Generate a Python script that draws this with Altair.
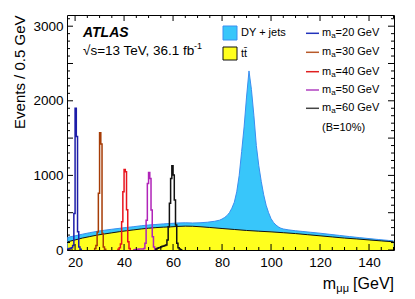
import altair as alt
import pandas as pd

# ---------------- data ----------------
# stacked top of (ttbar + DY+jets), events / 0.5 GeV
dy_mass = [17, 20, 23, 26, 29, 32, 35, 38, 41, 44, 47, 50, 53, 56, 59, 62, 65, 68, 71, 74,
           77, 79, 80, 81, 82, 83, 84, 85, 86, 87, 88, 89, 90, 91, 92, 93, 94, 95, 96, 97,
           98, 99, 100, 101, 102, 103, 104, 105, 107, 110, 113, 116, 120, 124, 128, 132, 136, 140, 144, 148,
           150]
dy_top = [170, 190, 212, 232, 250, 265, 278, 290, 302, 313, 325, 335, 342, 350, 356, 362, 365, 362, 365, 372,
          385, 400, 415, 435, 460, 500, 560, 640, 780, 1000, 1320, 1650, 2050, 2400, 2150, 1800, 1400, 1130, 920, 740,
          600, 500, 420, 370, 335, 310, 292, 282, 270, 258, 248, 238, 225, 210, 195, 180, 166, 153, 140, 128,
          122]

# ttbar
tt_mass = [17, 20, 23, 26, 29, 32, 35, 38, 41, 44, 47, 50, 53, 56, 59, 62, 65, 68, 71, 75,
           80, 85, 90, 95, 100, 105, 110, 115, 120, 125, 130, 135, 140, 145, 150]
tt_events = [110, 135, 160, 180, 200, 215, 230, 245, 258, 270, 282, 292, 300, 306, 310, 316, 320, 318, 312, 302,
             288, 275, 262, 252, 243, 232, 220, 205, 190, 175, 160, 148, 135, 122, 110]

# signals: first bin low edge and counts in 0.5 GeV bins
sig_names = ["m20", "m30", "m40", "m50", "m60"]
sig_start = [17.0, 28.0, 37.5, 44.0, 53.0]
sig_m20 = [15, 20, 25, 30, 60, 490, 1900, 1520, 245, 40, 10]
sig_m30 = [20, 60, 240, 760, 1570, 1420, 220, 40, 10]
sig_m40 = [10, 30, 80, 380, 780, 1080, 1050, 540, 110, 20]
sig_m50 = [5, 8, 8, 10, 12, 12, 15, 15, 20, 90, 400, 890, 1040, 960, 536, 178, 40, 10]
sig_m60 = [15, 25, 30, 35, 45, 50, 55, 60, 67, 134, 312, 626, 960, 1130, 1005, 670, 335, 90, 30, 15, 5]
sig_colors = ["#1c1ca8", "#a63c06", "#e8141e", "#b024b8", "#111111"]
sig_legend_colors = ["#2233bb", "#b85a2a", "#e02020", "#b040c0", "#444444"]
sig_labels = ["=20 GeV", "=30 GeV", "=40 GeV", "=50 GeV", "=60 GeV"]

x_major = [20, 40, 60, 80, 100, 120, 140]
x_minor = [25, 30, 35, 45, 50, 55, 65, 70, 75, 85, 90, 95, 105, 110, 115, 125, 130, 135, 145, 150]
y_major = [0, 500, 1000, 1500, 2000, 2500, 3000]
y_minor = [100, 200, 300, 400, 600, 700, 800, 900, 1100, 1200, 1300, 1400, 1600, 1700, 1800, 1900,
           2100, 2200, 2300, 2400, 2600, 2700, 2800, 2900, 3100]

# ---------------- layout ----------------
W, H = 327, 235
XDOM = [16.7, 150.2]
YDOM = [0, 3150]
FONT = "Liberation Sans"

xs = alt.Scale(domain=XDOM, nice=False, zero=False)
ys = alt.Scale(domain=YDOM, nice=False, zero=True)

dy_df = pd.DataFrame({"m": dy_mass, "v": dy_top})
tt_df = pd.DataFrame({"m": tt_mass, "v": tt_events})

rows = []
for name, start, counts in zip(sig_names, sig_start,
                               [sig_m20, sig_m30, sig_m40, sig_m50, sig_m60]):
    k = 0
    rows.append({"sig": name, "m": start, "v": 0, "o": k})
    for i, c in enumerate(counts):
        k += 1
        rows.append({"sig": name, "m": start + 0.5 * i, "v": c, "o": k})
    rows.append({"sig": name, "m": start + 0.5 * len(counts), "v": 0, "o": k + 1})
sig_df = pd.DataFrame(rows)

xax = alt.Axis(values=x_major, ticks=False, domain=False, grid=False, title=None, format="d",
               labelFont=FONT, labelFontSize=13.5, labelColor="black", labelPadding=5)
yax = alt.Axis(values=y_major, ticks=False, domain=False, grid=False, format="d",
               title="Events / 0.5 GeV", titleFont=FONT, titleFontSize=15,
               titleFontWeight="normal", titleColor="black", titleAngle=270,
               titleAlign="right", titleBaseline="alphabetic", titleX=-43, titleY=0,
               labelFont=FONT, labelFontSize=13.5, labelColor="black", labelPadding=4)

dy_area = alt.Chart(dy_df).mark_area(color="#38c6fa", stroke="#3a8ef0", strokeWidth=1,
                                     clip=True).encode(
    x=alt.X("m:Q", scale=xs, axis=xax),
    y=alt.Y("v:Q", scale=ys, axis=yax),
)
tt_area = alt.Chart(tt_df).mark_area(color="#ffff1e", clip=True).encode(
    x=alt.X("m:Q", scale=xs), y=alt.Y("v:Q", scale=ys))
tt_line = alt.Chart(tt_df).mark_line(color="#111111", strokeWidth=1, clip=True).encode(
    x=alt.X("m:Q", scale=xs), y=alt.Y("v:Q", scale=ys))

sig_lines = alt.Chart(sig_df).mark_line(interpolate="step-after", strokeWidth=1.5,
                                        clip=True).encode(
    x=alt.X("m:Q", scale=xs), y=alt.Y("v:Q", scale=ys),
    color=alt.Color("sig:N", scale=alt.Scale(domain=sig_names, range=sig_colors), legend=None),
    order="o:Q",
)


def xticks(vals, length, top):
    d = pd.DataFrame({"m": vals})
    if top:
        yv, y2v = 0, length
    else:
        yv, y2v = H, H - length
    return alt.Chart(d).mark_rule(color="black", strokeWidth=1).encode(
        x=alt.X("m:Q", scale=xs), y=alt.value(yv), y2=alt.value(y2v))


def yticks(vals, length, right):
    d = pd.DataFrame({"v": vals})
    if right:
        xv, x2v = W, W - length
    else:
        xv, x2v = 0, length
    return alt.Chart(d).mark_rule(color="black", strokeWidth=1).encode(
        y=alt.Y("v:Q", scale=ys), x=alt.value(xv), x2=alt.value(x2v))


ticks = [xticks(x_major, 6, False), xticks(x_minor, 3, False),
         xticks(x_major, 6, True), xticks(x_minor, 3, True),
         yticks(y_major, 6, False), yticks(y_minor, 3, False),
         yticks(y_major, 6, True), yticks(y_minor, 3, True)]

one = pd.DataFrame({"a": [0]})


def txt(s, x, y, size, align="left", baseline="alphabetic", weight="normal",
        style="normal", color="black", font=FONT):
    return alt.Chart(one).mark_text(text=s, align=align, baseline=baseline, fontSize=size,
                                    fontWeight=weight, fontStyle=style, color=color,
                                    font=font).encode(x=alt.value(x), y=alt.value(y))


texts = [
    txt("ATLAS", 16, 22, 14, weight="bold", style="italic"),
    txt("\u221as=13 TeV, 36.1 fb", 16, 40, 13.5),
    txt("-1", 127, 34, 9),
    # x title
    txt("[GeV]", W, 274, 16, align="right"),
    txt("\u03bc\u03bc", W - 45, 277, 11, align="right"),
    txt("m", W - 58, 274, 16, align="right"),
]

# legend
leg = []
leg.append(alt.Chart(one).mark_rect(fill="#38c6fa", stroke="#3a8ef0", strokeWidth=1).encode(
    x=alt.value(156), x2=alt.value(170), y=alt.value(11), y2=alt.value(25)))
leg.append(alt.Chart(one).mark_rect(fill="#ffff1e", stroke="#111111", strokeWidth=1).encode(
    x=alt.value(156), x2=alt.value(170), y=alt.value(32), y2=alt.value(45)))
leg.append(txt("DY + jets", 174, 18, 11, baseline="middle"))
leg.append(txt("t\u0074\u0304", 174, 38.5, 11, baseline="middle"))
ly = [18.3, 37.3, 56.7, 75.0, 93.3]
for c, lab, yy in zip(sig_legend_colors, sig_labels, ly):
    leg.append(alt.Chart(one).mark_rule(color=c, strokeWidth=1.5).encode(
        x=alt.value(239), x2=alt.value(252), y=alt.value(yy)))
    leg.append(txt("m", 255, yy, 11, baseline="middle"))
    leg.append(txt("a", 264.2, yy + 3, 8, baseline="middle"))
    leg.append(txt(lab, 268.6, yy, 11, baseline="middle"))
leg.append(txt("(B=10%)", 255, 113, 11, baseline="middle"))

chart = alt.layer(dy_area, tt_area, tt_line, sig_lines, *ticks, *texts, *leg).properties(
    width=W, height=H,
    padding={"left": 59, "top": 7, "right": 13, "bottom": 44},
    autosize=alt.AutoSizeParams(type="none"),
    background="white",
).configure_view(stroke="black", strokeWidth=1)

chart.save("out.html", embed_options={"renderer": "svg", "actions": False})
